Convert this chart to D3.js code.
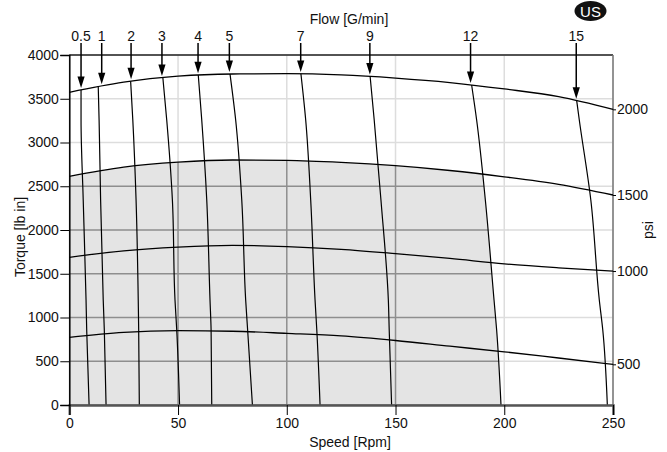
<!DOCTYPE html>
<html>
<head>
<meta charset="utf-8">
<script src="https://cdn.jsdelivr.net/npm/d3@7"></script>
<style>
  html, body { margin: 0; padding: 0; background: #fff; }
  svg { display: block; font-family: "Liberation Sans", Arial, sans-serif; }
</style>
</head>
<body>
<svg id="chart" width="667" height="452"></svg>
<script>
// ---------- data ----------
const speeds = [0, 25, 50, 75, 100, 125, 150, 175, 200, 225, 250];
const torque2000psi = [3574, 3690, 3758, 3783, 3786, 3772, 3736, 3685, 3612, 3525, 3379];
const torque1500psi = [2614, 2718, 2775, 2800, 2796, 2773, 2735, 2680, 2608, 2522, 2400];
const torque1000psi = [1688, 1762, 1805, 1825, 1811, 1779, 1730, 1675, 1613, 1568, 1531];
const torque500psi  = [773, 830, 849, 843, 819, 790, 737, 672, 608, 537, 465];
const pressureLabels = [2000, 1500, 1000, 500];

const flowLabels = ["0.5", "1", "2", "3", "4", "5", "7", "9", "12", "15"];
const flowTopTorque = [3600, 3646, 3699, 3745, 3771, 3783, 3786, 3760, 3657, 3478];
const flowLevels = [3257, 2343, 1200, 857, 0];
const flowRpm = [
  [5.4, 5.4, 6.4, 7.7, 8.0, 9.1],
  [13.3, 13.7, 14.4, 15.6, 16.1, 16.9],
  [28.2, 29.2, 30.7, 31.7, 31.9, 32.2],
  [43.0, 44.8, 47.4, 48.6, 49.4, 50.7],
  [59.3, 60.9, 63.2, 64.7, 65.2, 65.5],
  [73.9, 76.5, 79.3, 81.1, 82.0, 84.2],
  [106.5, 108.7, 111.0, 113.0, 113.8, 115.3],
  [138.3, 140.2, 143.3, 146.7, 147.1, 148.2],
  [185.0, 187.3, 191.3, 195.3, 196.5, 198.5],
  [233.3, 234.5, 239.8, 243.7, 245.3, 247.4]
];
const flowArrowRpm = [5.4, 14.9, 28.4, 42.6, 59.2, 73.6, 106.4, 138.2, 184.5, 233.1];
const shadedFlowIndex = 8;   // 12 G/min limit
const shadedPressureIndex = 1; // 1500 psi limit

const speedTicks = [0, 50, 100, 150, 200, 250];
const torqueTicks = [0, 500, 1000, 1500, 2000, 2500, 3000, 3500, 4000];

// ---------- layout ----------
const svg = d3.select("#chart");
const x = d3.scaleLinear().domain([0, 250]).range([69.3, 613]);
const y = d3.scaleLinear().domain([0, 4000]).range([405, 55]);
const FONT = 14;
const FAMILY = "Liberation Sans, Arial, sans-serif";

const pressureSeries = [torque2000psi, torque1500psi, torque1000psi, torque500psi]
  .map(arr => speeds.map((s, i) => ({ s, t: arr[i] })));

const flowSeries = flowRpm.map((r, k) => {
  const levels = [flowTopTorque[k]].concat(flowLevels);
  return levels.map((t, i) => ({ s: r[i], t }));
});

const pLine = d3.line().x(d => x(d.s)).y(d => y(d.t)).curve(d3.curveMonotoneX);
const fLine = d3.line().x(d => x(d.s)).y(d => y(d.t)).curve(d3.curveMonotoneY);

const defs = svg.append("defs");
defs.append("clipPath").attr("id", "leftOfFlow")
  .append("path")
  .attr("d", d3.area().y(d => y(d.t)).x0(x(0)).x1(d => x(d.s)).curve(d3.curveMonotoneY)(flowSeries[shadedFlowIndex]));
const underArea = d3.area().x(d => x(d.s)).y0(y(0)).y1(d => y(d.t)).curve(d3.curveMonotoneX);
defs.append("clipPath").attr("id", "underPressure")
  .append("path").attr("d", underArea(pressureSeries[shadedPressureIndex]));

// ---------- light grid ----------
function drawGrid(g, color) {
  g.selectAll(".vg").data(speedTicks).join("line")
    .attr("x1", d => x(d)).attr("x2", d => x(d)).attr("y1", y(0)).attr("y2", y(4000))
    .attr("stroke", color).attr("stroke-width", 1.5);
  g.selectAll(".hg").data(torqueTicks).join("line")
    .attr("x1", x(0)).attr("x2", x(250)).attr("y1", d => y(d)).attr("y2", d => y(d))
    .attr("stroke", color).attr("stroke-width", 1.5);
}
drawGrid(svg.append("g"), "#dddddd");

// ---------- shaded operating region ----------
const shadeG = svg.append("g").attr("clip-path", "url(#leftOfFlow)");
shadeG.append("path").attr("d", underArea(pressureSeries[shadedPressureIndex])).attr("fill", "#e4e4e4");
drawGrid(shadeG.append("g").attr("clip-path", "url(#underPressure)"), "#8e8e8e");

// ---------- frame ----------
svg.append("line").attr("x1", x(0)).attr("x2", x(250)).attr("y1", y(4000)).attr("y2", y(4000))
  .attr("stroke", "#222").attr("stroke-width", 1.5);
svg.append("line").attr("x1", x(250)).attr("x2", x(250)).attr("y1", y(4000)).attr("y2", y(0))
  .attr("stroke", "#777").attr("stroke-width", 1.5);

// ---------- curves ----------
svg.append("g").selectAll("path").data(pressureSeries).join("path")
  .attr("d", pLine).attr("fill", "none").attr("stroke", "#000").attr("stroke-width", 1.3);
svg.append("g").selectAll("path").data(flowSeries).join("path")
  .attr("d", fLine).attr("fill", "none").attr("stroke", "#000").attr("stroke-width", 1.2);

// ---------- arrows & flow labels ----------
const curve2000 = d3.scaleLinear().domain(speeds).range(torque2000psi);
const arrows = svg.append("g");
flowArrowRpm.forEach((s, k) => {
  const ax = x(s);
  const tip = y(curve2000(s)) - 2;
  arrows.append("line").attr("x1", ax).attr("x2", ax).attr("y1", 43).attr("y2", tip - 10)
    .attr("stroke", "#000").attr("stroke-width", 1.5);
  arrows.append("path")
    .attr("d", `M${ax - 3.6},${tip - 11.5}L${ax + 3.6},${tip - 11.5}L${ax},${tip}Z`)
    .attr("fill", "#000");
  arrows.append("text").attr("x", ax).attr("y", 41).attr("text-anchor", "middle")
    .attr("font-size", FONT).attr("fill", "#111").text(flowLabels[k]);
});

// ---------- axes ----------
const fmt = d3.format("d");
const xAxis = svg.append("g").attr("transform", `translate(0,${y(0)})`)
  .call(d3.axisBottom(x).tickValues(speedTicks).tickFormat(fmt).tickSize(10).tickPadding(3));
xAxis.select(".domain").attr("stroke", "#555").attr("stroke-width", 2.5);
xAxis.selectAll(".tick line").attr("stroke", "#000");
xAxis.selectAll("text").attr("font-size", FONT).attr("fill", "#111").attr("font-family", FAMILY);

const yAxis = svg.append("g").attr("transform", `translate(${x(0)},0)`)
  .call(d3.axisLeft(y).tickValues(torqueTicks).tickFormat(fmt).tickSize(9).tickPadding(1.5));
yAxis.select(".domain").attr("stroke", "#000").attr("stroke-width", 1.5);
yAxis.selectAll(".tick line").attr("stroke", "#000");
yAxis.selectAll("text").attr("font-size", FONT).attr("fill", "#111").attr("font-family", FAMILY);

const endTorques = pressureSeries.map(s => s[s.length - 1].t);
const psiScale = d3.scaleLinear().domain(pressureLabels.slice().reverse())
  .range(endTorques.slice().reverse().map(t => y(t)));
const rAxis = svg.append("g").attr("transform", `translate(${x(250)},0)`)
  .call(d3.axisRight(psiScale).tickValues(pressureLabels).tickFormat(fmt).tickSize(3).tickPadding(1));
rAxis.select(".domain").remove();
rAxis.selectAll(".tick line").attr("stroke", "#000");
rAxis.selectAll("text").attr("font-size", FONT).attr("fill", "#111").attr("font-family", FAMILY);

// ---------- titles ----------
svg.append("text").attr("x", 350).attr("y", 447).attr("text-anchor", "middle")
  .attr("font-size", FONT).attr("fill", "#111").text("Speed [Rpm]");
svg.append("text").attr("x", 349).attr("y", 24).attr("text-anchor", "middle")
  .attr("font-size", FONT).attr("fill", "#111").text("Flow [G/min]");
svg.append("text").attr("transform", "translate(25,237) rotate(-90)").attr("text-anchor", "middle")
  .attr("font-size", FONT).attr("fill", "#111").text("Torque [lb in]");
svg.append("text").attr("transform", "translate(653,230) rotate(-90)").attr("text-anchor", "middle")
  .attr("font-size", FONT).attr("fill", "#111").text("psi");

// ---------- US badge ----------
svg.append("ellipse").attr("cx", 590.5).attr("cy", 11).attr("rx", 16).attr("ry", 10).attr("fill", "#111");
svg.append("text").attr("x", 590.5).attr("y", 16.5).attr("text-anchor", "middle")
  .attr("font-size", 15).attr("fill", "#fff").text("US");
</script>
</body>
</html>
